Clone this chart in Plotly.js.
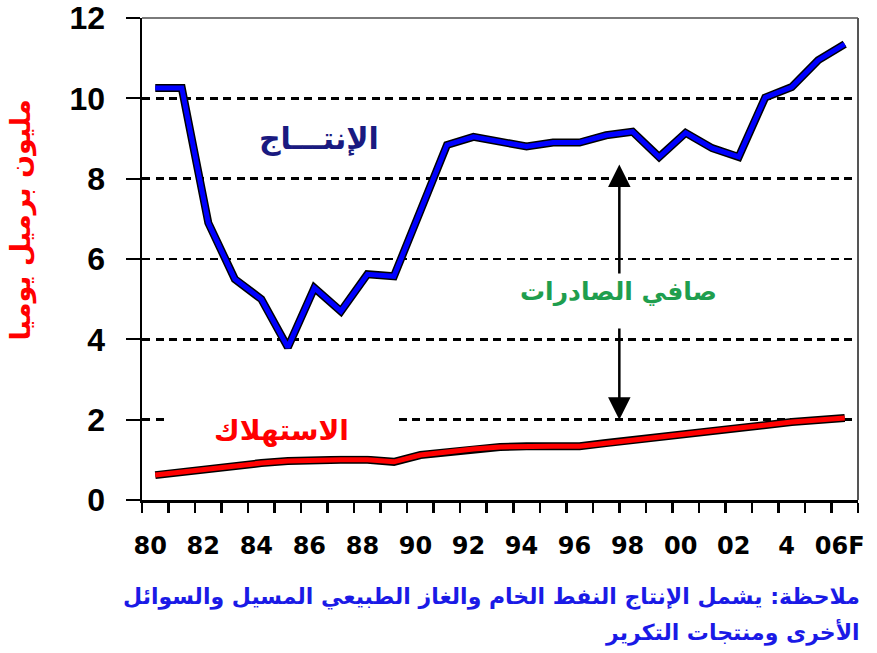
<!DOCTYPE html>
<html>
<head>
<meta charset="utf-8">
<script src="https://cdn.plot.ly/plotly-3.0.1.min.js"></script>
<style>html,body{margin:0;padding:0;background:#fff;}#chart{width:877px;height:653px;}</style>
</head>
<body>
<div id="chart"></div>
<script>
// ---- data ----
const years = [1980,1981,1982,1983,1984,1985,1986,1987,1988,1989,1990,1991,1992,1993,1994,1995,1996,1997,1998,1999,2000,2001,2002,2003,2004,2005,2006];
const production = [10.26,10.26,6.9,5.5,5.0,3.8,5.28,4.7,5.62,5.57,7.2,8.84,9.04,8.93,8.8,8.9,8.9,9.08,9.17,8.54,9.14,8.76,8.54,10.02,10.28,10.95,11.35];
const consumption = [0.62,0.7,0.75,0.85,0.92,0.97,1.0,1.0,1.0,0.95,1.12,1.2,1.27,1.32,1.34,1.34,1.34,1.42,1.5,1.57,1.67,1.72,1.79,1.87,1.94,1.99,2.04];
const xTickVals = [1980,1982,1984,1986,1988,1990,1992,1994,1996,1998,2000,2002,2004,2006];
const xTickText = ['80','82','84','86','88','90','92','94','96','98','00','02','4','06F'];
const yTickVals = [0,2,4,6,8,10,12];
const yTickText = ['0','2','4','6','8','10','12'];
const yearBoundaries = years.concat([2006+1]).map(v => v - 0.5);

const labelProduction = 'الإنتـــاج';
const labelExports = 'صافي الصادرات';
const labelConsumption = 'الاستهلاك';
const yTitle = 'مليون برميل يوميا';
const note1 = 'ملاحظة: يشمل الإنتاج النفط الخام والغاز الطبيعي المسيل والسوائل';
const note2 = 'الأخرى ومنتجات التكرير';

// arrow positions (data units)
const arrowX = 1997.5;
const arrowUp = {head: 8.35, tail: 5.6};
const arrowDown = {head: 2.0, tail: 4.31};

const traces = [
  {x: years, y: consumption, mode: 'lines', line: {color: '#000', width: 8}, hoverinfo: 'skip', showlegend: false},
  {x: years, y: consumption, mode: 'lines', line: {color: '#ff0000', width: 5}, showlegend: false},
  {x: years, y: production, mode: 'lines', line: {color: '#000', width: 8}, hoverinfo: 'skip', showlegend: false},
  {x: years, y: production, mode: 'lines', line: {color: '#0000ff', width: 5}, showlegend: false}
];

const arabicFont = '"DejaVu Sans", "Noto Sans", sans-serif';

const layout = {
  width: 877, height: 653,
  margin: {l: 142, r: 19, t: 18, b: 153},
  paper_bgcolor: '#ffffff', plot_bgcolor: '#ffffff',
  showlegend: false,
  xaxis: {
    type: 'linear', range: [1979.5, 2006.5],
    tickmode: 'array', tickvals: xTickVals, ticktext: xTickText,
    ticks: '', showgrid: false, zeroline: false,
    showline: true, linecolor: '#000', linewidth: 2.5,
    tickfont: {family: '"DejaVu Sans", sans-serif', size: 24, color: '#000', weight: 'bold'},
    ticklabelstandoff: 23, ticklabelshift: -5,
    minor: {tickmode: 'array', tickvals: yearBoundaries, ticks: 'outside', ticklen: 10, tickwidth: 2.5, tickcolor: '#000', showgrid: false}
  },
  yaxis: {
    range: [0, 12], tickmode: 'array', tickvals: yTickVals, ticktext: yTickText,
    ticks: 'outside', ticklen: 14, tickwidth: 2, tickcolor: '#000',
    showline: true, linecolor: '#000', linewidth: 2.5, zeroline: false,
    showgrid: true, gridcolor: '#000', gridwidth: 2.5, griddash: '8px,5.5px',
    tickfont: {family: '"Liberation Sans", Arial, sans-serif', size: 32, color: '#000', weight: 'bold'},
    ticklabelstandoff: 14
  },
  shapes: [
    {type: 'line', xref: 'paper', yref: 'paper', x0: 0, x1: 1, y0: 1, y1: 1, line: {color: '#7a7a7a', width: 2}, layer: 'above'},
    {type: 'line', xref: 'paper', yref: 'paper', x0: 1, x1: 1, y0: 0, y1: 1, line: {color: '#555', width: 2}, layer: 'above'}
  ],
  annotations: [
    {x: -0.169, y: 0.582, xref: 'paper', yref: 'paper', text: yTitle, showarrow: false, textangle: -90,
     xanchor: 'center', yanchor: 'middle',
     font: {family: arabicFont, size: 27, color: '#ff0000', weight: 'bold'}},
    {x: 1986.17, y: 9.01, xref: 'x', yref: 'y', text: labelProduction, showarrow: false,
     font: {family: arabicFont, size: 30, color: '#1a1a80', weight: 'bold'}},
    {x: 1997.45, y: 5.2, xref: 'x', yref: 'y', text: labelExports, showarrow: false,
     font: {family: arabicFont, size: 25, color: '#1f9e4e', weight: 'bold'}},
    {x: 1984.76, y: 1.66, xref: 'x', yref: 'y', text: labelConsumption, showarrow: false,
     bgcolor: '#ffffff', width: 229, height: 39, borderpad: 2, valign: 'top',
     font: {family: arabicFont, size: 28, color: '#ff0000', weight: 'bold'}},
    {x: arrowX, y: arrowUp.head, ax: arrowX, ay: arrowUp.tail, xref: 'x', yref: 'y', axref: 'x', ayref: 'y',
     text: '', showarrow: true, arrowhead: 2, arrowsize: 1.8, arrowwidth: 2.5, arrowcolor: '#000', standoff: 0, startstandoff: 0},
    {x: arrowX, y: arrowDown.head, ax: arrowX, ay: arrowDown.tail, xref: 'x', yref: 'y', axref: 'x', ayref: 'y',
     text: '', showarrow: true, arrowhead: 2, arrowsize: 1.8, arrowwidth: 2.5, arrowcolor: '#000', standoff: 0, startstandoff: 0},
    {x: 1.0056, y: -0.201, xref: 'paper', yref: 'paper', xanchor: 'right', yanchor: 'middle', text: note1, showarrow: false,
     font: {family: arabicFont, size: 22, color: '#1a1ae6', weight: 'bold'}},
    {x: 1.0056, y: -0.274, xref: 'paper', yref: 'paper', xanchor: 'right', yanchor: 'middle', text: note2, showarrow: false,
     font: {family: arabicFont, size: 22, color: '#1a1ae6', weight: 'bold'}}
  ]
};

Plotly.newPlot('chart', traces, layout, {displayModeBar: false, staticPlot: true});
</script>
</body>
</html>
